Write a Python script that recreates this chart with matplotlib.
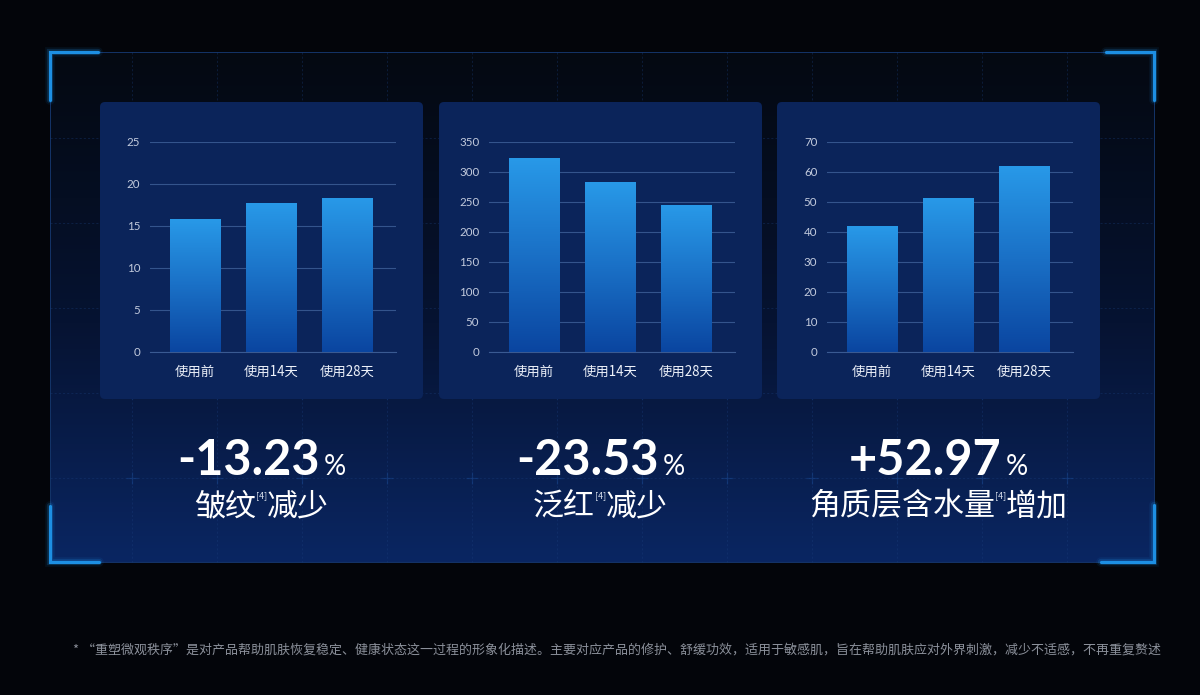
import numpy as np
import matplotlib
matplotlib.use('Agg')
import matplotlib.pyplot as plt
from matplotlib.patches import FancyBboxPatch, Rectangle
from matplotlib.colors import LinearSegmentedColormap

plt.rcParams['font.family'] = ['Noto Sans CJK SC', 'DejaVu Sans']

# data
categories = ['使用前', '使用14天', '使用28天']
wrinkle = [15.8, 17.7, 18.3]
redness = [322, 282, 244]
moisture = [41.7, 51.3, 62.0]
y_max = [25, 350, 70]
y_step = [5, 50, 10]

stat_values = ['-13.23', '-23.53', '+52.97']
stat_heads = ['皱纹', '泛红', '角质层含水量']
stat_tails = ['减少', '减少', '增加']
footnote = ('* “重塑微观秩序”是对产品帮助肌肤恢复稳定、健康状态这一过程的形象化描述。'
            '主要对应产品的修护、舒缓功效，适用于敏感肌，旨在帮助肌肤应对外界刺激，'
            '减少不适感，不再重复赘述')

W, H = 1200, 695
fig = plt.figure(figsize=(12, 6.95), dpi=100)
fig.patch.set_facecolor('#03050a')

# background layer in pixel coordinates
bg = fig.add_axes([0, 0, 1, 1])
bg.axis('off')

panel_cmap = LinearSegmentedColormap.from_list('panel', ['#040912', '#061332', '#0a2662'])
grad = np.linspace(0, 1, 256)[:, None] ** 1.1
bg.imshow(grad, extent=(50, 1154, 562, 52), cmap=panel_cmap, aspect='auto', zorder=0)
bg.add_patch(Rectangle((50, 52), 1104, 510, fill=False, ec='#143468', lw=0.7, zorder=1))

# faint dashed grid with crosses
gx = np.arange(132, 1100, 85)
gy = np.arange(138, 500, 85)
bg.vlines(gx, 52, 562, colors='#1b3f7e', linestyles=(0, (2.5, 2.5)), lw=0.6, alpha=0.4, zorder=1)
bg.hlines(gy, 50, 1154, colors='#1b3f7e', linestyles=(0, (2.5, 2.5)), lw=0.6, alpha=0.4, zorder=1)
for yy in gy:
    bg.plot(gx, np.full(len(gx), yy), '+', color='#1f55a6', ms=8, mew=0.9, alpha=0.35, zorder=1)

# corner brackets with glow
brackets = [
    [(50, 100), (50, 52), (98, 52)],
    [(1106, 52), (1154, 52), (1154, 100)],
    [(50, 506), (50, 562), (99, 562)],
    [(1101, 562), (1154, 562), (1154, 505)],
]
for br in brackets:
    xs, ys = zip(*br)
    for lw, a in [(7, 0.08), (4.5, 0.2), (2.3, 1.0)]:
        bg.plot(xs, ys, color='#1d8fe3', lw=lw, alpha=a, solid_capstyle='round',
                solid_joinstyle='miter', zorder=2)

# chart cards
card_left = [100, 439, 777]
for x0 in card_left:
    bg.add_patch(FancyBboxPatch((x0, 102), 323, 297, boxstyle='round,pad=0,rounding_size=5',
                                fc='#0b245a', ec='none', zorder=3))

bg.set_xlim(0, W)
bg.set_ylim(H, 0)

# bar charts
bar_cmap = LinearSegmentedColormap.from_list('bar', ['#0a45a0', '#1a70c6', '#2899e8'])
bar_grad = np.linspace(0, 1, 256)[:, None]
axes_left = [150, 489, 827]
for left, vals, top, step in zip(axes_left, [wrinkle, redness, moisture], y_max, y_step):
    ax = fig.add_axes([left / W, 1 - 352 / H, 246 / W, 210 / H])
    ax.set_facecolor('none')
    x = np.arange(len(categories))
    bars = ax.bar(x, vals, width=0.658, color='#1a72c8', zorder=3)
    for p in bars:
        bx0, by0 = p.get_x(), p.get_y()
        ax.imshow(bar_grad, extent=(bx0, bx0 + p.get_width(), by0, by0 + p.get_height()),
                  origin='lower', cmap=bar_cmap, aspect='auto', zorder=4)
    ax.set_xlim(-0.592, 2.645)
    ax.set_ylim(0, top)
    ax.set_yticks(np.arange(0, top + 1, step))
    ax.set_xticks(x)
    ax.set_xticklabels(categories)
    ax.yaxis.grid(True, color='#34548c', lw=0.8)
    ax.set_axisbelow(True)
    for s in ['top', 'right', 'left']:
        ax.spines[s].set_visible(False)
    ax.spines['bottom'].set_color('#3a5a92')
    ax.spines['bottom'].set_linewidth(0.8)
    ax.tick_params(axis='y', length=0, pad=7, labelsize=8.3, labelcolor='#c3cbdd')
    ax.tick_params(axis='x', length=0, pad=9, labelsize=9.6, labelcolor='#eef2fa')
    for lab in ax.get_yticklabels():
        lab.set_family(['Lato', 'DejaVu Sans'])

# headline numbers and labels
renderer = fig.canvas.get_renderer()


def place_row(parts, cx):
    arts = [bg.text(0, y, s, ha='left', **kw) for s, y, gap, kw in parts]
    widths = [a.get_window_extent(renderer).width + gap for a, (_, _, gap, _) in zip(arts, parts)]
    x = cx - sum(widths) / 2
    for a, w in zip(arts, widths):
        a.set_x(x)
        x += w


card_center = [261.5, 600.5, 938.5]
for cx, val, head, tail in zip(card_center, stat_values, stat_heads, stat_tails):
    num_kw = dict(va='baseline', color='white', fontsize=35, fontweight='bold',
                  family=['Lato', 'DejaVu Sans'], zorder=5)
    pct_kw = dict(va='baseline', color='white', fontsize=20,
                  family=['Lato', 'DejaVu Sans'], zorder=5)
    place_row([(val, 475, 4, num_kw), ('%', 475, 0, pct_kw)], cx)
    lab_kw = dict(va='center', color='white', fontsize=22.3, zorder=5)
    sup_kw = dict(va='center', color='#d6ddeb', fontsize=6.5, zorder=5)
    place_row([(head, 507, 0, lab_kw), ('[4]', 496, 0, sup_kw), (tail, 507, 0, lab_kw)], cx)

# footnote, sized to span the same width as in the reference
note = bg.text(73, 650, footnote, color='#8b909a', fontsize=8.6, va='center', ha='left')
w = note.get_window_extent(renderer).width
note.set_fontsize(8.6 * 1083 / w)

fig.savefig('out.png', dpi=100, facecolor=fig.get_facecolor())
